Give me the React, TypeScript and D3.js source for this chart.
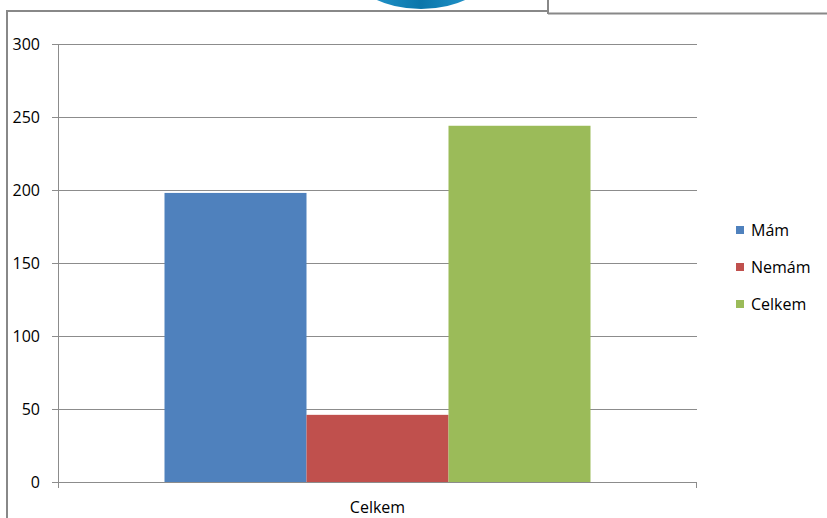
import React from "react";
import * as d3 from "d3";

const categories = ["Celkem"];
const seriesNames = ["Mám", "Nemám", "Celkem"];
const seriesValues = [198, 46, 244];
const seriesColors = ["#4F81BD", "#C0504D", "#9BBB59"];
const yTicks = [0, 50, 100, 150, 200, 250, 300];

const W = 827;
const H = 518;
const plotLeft = 58;
const plotRight = 697;
const plotTop = 44;
const plotBottom = 482;
const font = "'Open Sans', 'Noto Sans', sans-serif";

export default function App() {
  const y = d3.scaleLinear().domain([0, 300]).range([plotBottom, plotTop]);
  const x0 = d3.scaleBand().domain(categories).range([plotLeft, plotRight]).paddingInner(0).paddingOuter(0);
  // Excel style: gap width 75% of one bar on each side
  const bw = x0.bandwidth() / (seriesNames.length + 0.75 * 2);
  const gap = bw * 0.75;

  return (
    <svg
      width={W}
      height={H}
      style={{ position: "absolute", left: 0, top: 0, background: "#fff" }}
    >
      <defs>
        <linearGradient id="blob" x1="0" y1="0" x2="1" y2="0">
          <stop offset="0%" stopColor="#2a9fd6" />
          <stop offset="50%" stopColor="#0b76aa" />
          <stop offset="100%" stopColor="#2a9fd6" />
        </linearGradient>
      </defs>
      {/* decorative fragments at top */}
      <ellipse cx={421} cy={-30} rx={69} ry={39} fill="url(#blob)" />
      <line x1={7} y1={11} x2={548} y2={11} stroke="#888" strokeWidth={2} />
      <line x1={7} y1={10} x2={7} y2={H} stroke="#888" strokeWidth={2} />
      <line x1={548} y1={0} x2={548} y2={14} stroke="#888" strokeWidth={2} />
      <line x1={548} y1={13.5} x2={W} y2={13.5} stroke="#888" strokeWidth={2} />

      {/* gridlines + y ticks */}
      {yTicks.map((t) => (
        <g key={t}>
          <line
            x1={plotLeft - 6}
            x2={plotRight}
            y1={Math.round(y(t)) + 0.5}
            y2={Math.round(y(t)) + 0.5}
            stroke="#8c8c8c"
            strokeWidth={1}
          />
          <text
            x={40}
            y={y(t)}
            textAnchor="end"
            dominantBaseline="central"
            fontFamily={font}
            fontSize={16}
            fill="#000"
          >
            {t}
          </text>
        </g>
      ))}

      {/* bars */}
      {categories.map((c) =>
        seriesValues.map((v, i) => {
          const bx = (x0(c) as number) + gap + i * bw;
          return (
            <rect
              key={c + i}
              x={bx}
              y={y(v)}
              width={bw}
              height={plotBottom - y(v)}
              fill={seriesColors[i]}
            />
          );
        })
      )}

      {/* axes */}
      <line x1={plotLeft + 0.5} x2={plotLeft + 0.5} y1={plotTop} y2={plotBottom + 6} stroke="#8c8c8c" />
      <line x1={plotLeft} x2={plotRight} y1={plotBottom + 0.5} y2={plotBottom + 0.5} stroke="#8c8c8c" />
      <line x1={plotRight - 0.5} x2={plotRight - 0.5} y1={plotBottom} y2={plotBottom + 6} stroke="#8c8c8c" />
      {categories.map((c) => (
        <text
          key={c}
          x={(x0(c) as number) + x0.bandwidth() / 2}
          y={507}
          textAnchor="middle"
          dominantBaseline="central"
          fontFamily={font}
          fontSize={16}
          fill="#000"
        >
          {c}
        </text>
      ))}

      {/* legend */}
      {seriesNames.map((s, i) => {
        const cy = 230 + i * 37;
        return (
          <g key={s}>
            <rect x={736} y={cy - 4} width={8} height={8} fill={seriesColors[i]} />
            <text
              x={751}
              y={cy}
              dominantBaseline="central"
              fontFamily={font}
              fontSize={16}
              fill="#000"
            >
              {s}
            </text>
          </g>
        );
      })}
    </svg>
  );
}
